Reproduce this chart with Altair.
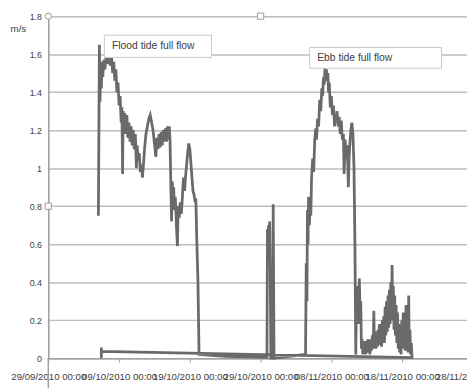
import altair as alt
import pandas as pd

# ---- data (days since 29/09/2010 00:00, speed m/s) ----
days = [
    7.08, 7.22, 7.30, 7.40, 7.50, 7.60, 7.70, 7.85, 8.00, 8.15, 8.35, 8.55, 8.75, 8.95,
    9.10, 9.25, 9.40, 9.55, 9.70, 9.85, 10.00, 10.15, 10.30, 10.40, 10.50, 10.58, 10.70,
    10.80, 10.95, 11.10, 11.25, 11.40, 11.55, 11.70, 11.85, 12.00, 12.15, 12.30, 12.45,
    12.55, 12.70, 12.85, 13.00, 13.15, 13.30, 13.45, 13.60, 13.80, 14.00, 14.20, 14.40,
    14.60, 14.80, 15.00, 15.20, 15.35, 15.50, 15.65, 15.80, 15.95, 16.10, 16.25, 16.40,
    16.55, 16.70, 16.85, 17.00, 17.10, 17.20, 17.30, 17.42, 17.52, 17.62, 17.72, 17.82,
    17.95, 18.10, 18.25, 18.35, 18.50, 18.65, 18.80, 18.95, 19.10, 19.25, 19.40, 19.55,
    19.70, 19.85, 20.00, 20.15, 20.30, 20.45, 20.60, 20.75, 20.85, 21.00, 21.15, 21.30,
    25.00, 30.90,
    30.97, 31.05, 31.12, 31.20, 31.28, 31.35, 31.45, 31.70, 31.78, 31.90,
    34.00, 36.35,
    36.45, 36.55, 36.62, 36.70, 36.78, 36.90, 37.00, 37.10, 37.20, 37.36, 37.50, 37.65,
    37.80, 37.90, 38.05, 38.20, 38.35, 38.50, 38.65, 38.75, 38.90, 39.00, 39.10, 39.20,
    39.30, 39.40, 39.50, 39.60, 39.70, 39.85, 40.00, 40.15, 40.30, 40.45, 40.55, 40.70,
    40.80, 40.95, 41.10, 41.25, 41.40, 41.55, 41.70, 41.80, 41.95, 42.10, 42.25, 42.40,
    42.50, 42.60, 42.75, 42.90, 43.05, 43.20, 43.33,
    43.45, 43.55, 43.62, 43.70, 43.78, 43.86, 43.95, 44.05, 44.15, 44.25, 44.35, 44.45,
    44.55, 44.65, 44.75, 44.85, 44.95, 45.05, 45.15, 45.25, 45.35, 45.45, 45.55, 45.65,
    45.80, 45.92, 46.00, 46.08, 46.20, 46.30, 46.40, 46.50, 46.60, 46.70, 46.80, 46.90,
    47.00, 47.10, 47.20, 47.30, 47.40, 47.50, 47.60, 47.70, 47.80, 47.90, 48.00, 48.10,
    48.20, 48.30, 48.40, 48.50, 48.58, 48.66, 48.75, 48.85, 48.95, 49.05, 49.15, 49.25,
    49.35, 49.45, 49.55, 49.65, 49.75, 49.85, 49.95, 50.05, 50.15, 50.25, 50.35, 50.45,
    50.55, 50.65, 50.75, 50.85, 50.93, 51.00, 51.10, 51.20, 51.30, 51.40,
    7.50, 7.50, 7.50,
]
speeds = [
    0.75, 1.65, 1.35, 1.50, 1.42, 1.56, 1.48, 1.57, 1.52, 1.58, 1.55, 1.59, 1.54, 1.58,
    1.50, 1.56, 1.46, 1.52, 1.40, 1.45, 1.33, 1.38, 1.24, 1.32, 0.97, 1.30, 1.20,
    1.29, 1.18, 1.28, 1.16, 1.24, 1.14, 1.22, 1.12, 1.20, 1.10, 1.18, 1.00,
    1.12, 1.04, 1.08, 0.98, 1.02, 0.95, 1.02, 1.10, 1.18, 1.22, 1.26, 1.28,
    1.24, 1.20, 1.13, 1.06, 1.16, 1.10, 1.18, 1.11, 1.19, 1.12, 1.20, 1.14,
    1.21, 1.14, 1.22, 1.15, 1.22, 1.15, 0.95, 0.72, 0.93, 0.85, 0.90, 0.78,
    0.85, 0.70, 0.59, 0.80, 0.74, 0.82, 0.76, 0.85, 0.95, 0.88, 0.96, 1.02,
    1.08, 1.13, 1.10, 1.03, 0.95, 0.88, 0.86, 0.82, 0.84, 0.60, 0.40, 0.02,
    0.01, 0.005,
    0.68, 0.62, 0.70, 0.55, 0.72, 0.50, 0.0, 0.0, 0.81, 0.0,
    0.01, 0.02,
    0.50, 0.30, 0.78, 0.60, 0.85, 0.70, 0.82, 0.75, 0.95, 1.05, 0.98, 1.15,
    1.21, 1.15, 1.26, 1.22, 1.36, 1.30, 1.42, 1.38, 1.48, 1.44, 1.53, 1.47,
    1.52, 1.46, 1.50, 1.40, 1.45, 1.32, 1.38, 1.28, 1.33, 1.22, 1.28, 1.24,
    1.30, 1.22, 1.27, 1.18, 1.25, 1.15, 1.18, 0.97, 1.15, 1.05, 1.12, 0.90,
    1.05, 1.12, 1.20, 1.24, 1.18, 1.00, 0.60,
    0.02, 0.30, 0.38, 0.22, 0.35, 0.18, 0.42, 0.25, 0.30, 0.05, 0.10, 0.02,
    0.08, 0.03, 0.09, 0.02, 0.07, 0.03, 0.10, 0.04, 0.08, 0.02, 0.10, 0.04,
    0.12, 0.05, 0.25, 0.06, 0.12, 0.05, 0.14, 0.06, 0.15, 0.07, 0.18, 0.08,
    0.16, 0.06, 0.20, 0.10, 0.22, 0.08, 0.27, 0.12, 0.30, 0.14, 0.33, 0.16,
    0.36, 0.18, 0.40, 0.20, 0.49, 0.22, 0.38, 0.15, 0.33, 0.12, 0.28, 0.08,
    0.24, 0.05, 0.18, 0.03, 0.12, 0.02, 0.20, 0.05, 0.24, 0.08, 0.20, 0.04,
    0.28, 0.06, 0.22, 0.03, 0.33, 0.04, 0.15, 0.02, 0.08, 0.003,
    0.036, 0.057, 0.0,
]

y_ticks = [0, 0.2, 0.4, 0.6, 0.8, 1, 1.2, 1.4, 1.6, 1.8]
x_tick_days = [0, 10, 20, 30, 40, 50]
extra_label_days = [60]

notes = ["Flood tide full flow", "Ebb tide full flow"]
note_box_day0 = [7.92, 36.94]
note_box_day1 = [23.06, 55.56]
note_box_v0 = [1.583, 1.526]
note_box_v1 = [1.700, 1.635]
note_text_day = [9.0, 38.0]
note_text_v = [1.642, 1.580]

handle_days = [0, 30, 0]
handle_vals = [1.8, 1.8, 0.8]
handle_shapes = ["circle", "square", "square"]

base = pd.Timestamp("2010-09-29")


def iso(d):
    return (base + pd.to_timedelta(d, unit="D")).strftime("%Y-%m-%dT%H:%M:%SZ")


df = pd.DataFrame({"t": [iso(d) for d in days], "v": speeds, "i": range(len(days))})
notes_df = pd.DataFrame({
    "note": notes,
    "t": [iso(d) for d in note_box_day0], "t1": [iso(d) for d in note_box_day1],
    "v": note_box_v0, "v1": note_box_v1,
})
notes_txt_df = pd.DataFrame({"note": notes, "t": [iso(d) for d in note_text_day], "v": note_text_v})
handles_df = pd.DataFrame({"t": [iso(d) for d in handle_days], "v": handle_vals, "shape": handle_shapes})
extra_df = pd.DataFrame({"t": [iso(d) for d in extra_label_days], "v": [0]})
axisext_df = pd.DataFrame({"t": [iso(0)], "v": [0], "v2": [-0.16]})

FONT = "Liberation Sans"
GRAY = "#6a6a6a"
AX = "#a0a0a0"

xscale = alt.Scale(type="utc", domain=[
    alt.DateTime(year=2010, month=9, date=29, utc=True),
    alt.DateTime(year=2010, month=11, date=27, hours=4, utc=True),
])
yscale = alt.Scale(domain=[0, 1.8], nice=False, zero=False)

x_vals = []
for d in x_tick_days:
    ts = base + pd.to_timedelta(d, unit="D")
    x_vals.append(alt.DateTime(year=ts.year, month=ts.month, date=ts.day, utc=True))

X_AX = alt.Axis(
    values=x_vals, labelExpr="utcFormat(datum.value, '%d/%m/%Y %H:%M')", title=None,
    grid=False, domainColor=AX, domainWidth=1.5, tickColor=AX, tickSize=4, tickWidth=1,
    labelFont=FONT, labelFontSize=9.8, labelColor="#404040", labelOverlap=False,
    labelPadding=10, labelFlush=False, labelBound=False)
Y_AX = alt.Axis(
    values=y_ticks, format="~g", title="m/s", titleAngle=0, titleAlign="left",
    titleBaseline="middle", titleX=-39, titleY=13, titleFont=FONT, titleFontSize=10,
    titleFontWeight="normal", titleColor="#404040", labelOverlap=False,
    grid=True, gridColor="#bdbdbd", gridWidth=1.5, domainColor=AX, domainWidth=1.5,
    ticks=False, labelFont=FONT, labelFontSize=9, labelColor="#404040", labelPadding=7)

XE = alt.X("t:T", scale=xscale, axis=X_AX, title=None)
YE = alt.Y("v:Q", scale=yscale, axis=Y_AX, title="m/s")

line = alt.Chart(df).mark_line(color=GRAY, strokeWidth=2.8, strokeJoin="miter", clip=False).encode(
    x=XE, y=YE, order="i:Q")

axis_ext = alt.Chart(axisext_df).mark_rule(color=AX, strokeWidth=1.5).encode(
    x=XE, y=YE, y2="v2:Q")

boxes = alt.Chart(notes_df).mark_rect(fill="white", stroke="#c8c8c8", strokeWidth=1).encode(
    x=XE, x2="t1:T", y=YE, y2="v1:Q")
texts = alt.Chart(notes_txt_df).mark_text(align="left", baseline="middle", font=FONT, fontSize=10.5,
                                          color="#404040").encode(x=XE, y=YE, text="note:N")

handles = alt.Chart(handles_df).mark_point(filled=True, fill="white", stroke="#9a9a9a",
                                          strokeWidth=1, size=40, opacity=1).encode(
    x=XE, y=YE, shape=alt.Shape("shape:N", scale=None))

extra = alt.Chart(extra_df).mark_text(align="center", baseline="top", dy=14, font=FONT,
                                      fontSize=9.8, color="#404040").encode(
    x=XE, y=YE, text=alt.value("28/11/2010 00:00"))

chart = alt.layer(line, axis_ext, boxes, texts, handles, extra).properties(
    width=426, height=348,
    autosize=alt.AutoSizeParams(type="none"),
    padding={"left": 41, "top": 5, "right": 0, "bottom": 27},
).configure_view(stroke=None).configure(background="white")

chart.save("out.html", embed_options={"renderer": "svg", "actions": False})
